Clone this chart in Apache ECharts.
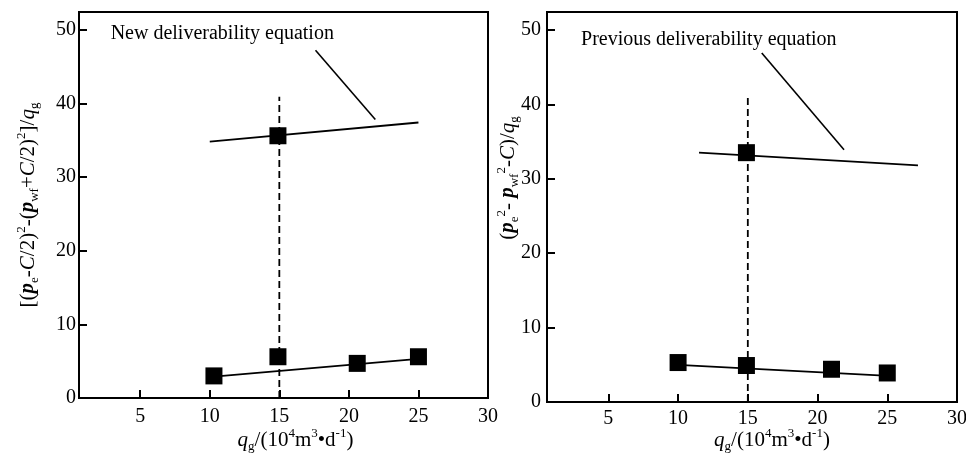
<!DOCTYPE html>
<html>
<head>
<meta charset="utf-8">
<script src="https://cdn.jsdelivr.net/npm/echarts@6/dist/echarts.min.js"></script>
<style>
  html, body { margin: 0; padding: 0; background: #fff; }
  #main { width: 966px; height: 454px; }
</style>
</head>
<body>
<div id="main"></div>
<script>
// tick labels
const xTicks = [5, 10, 15, 20, 25, 30];
const yTicks = [0, 10, 20, 30, 40, 50];

// left panel: new deliverability equation
const newLowX = [10.3, 14.9, 20.6, 25.0];
const newLowY = [3.0, 5.6, 4.7, 5.6];
const newHighX = [14.9];
const newHighY = [35.6];
const newLowFitX = [10.3, 25.0];
const newLowFitY = [2.9, 5.3];
const newHighFitX = [10.0, 25.0];
const newHighFitY = [34.8, 37.4];
const newDashX = [15, 15];
const newDashY = [0, 40.9];
const newLeaderX = [17.6, 21.9];
const newLeaderY = [47.2, 37.8];
const newTextPos = [10.9, 49.5];

// right panel: previous deliverability equation
const prevLowX = [10.0, 14.9, 21.0, 25.0];
const prevLowY = [5.3, 4.9, 4.4, 3.9];
const prevHighX = [14.9];
const prevHighY = [33.5];
const prevLowFitX = [10.0, 25.1];
const prevLowFitY = [5.0, 3.5];
const prevHighFitX = [11.5, 27.2];
const prevHighFitY = [33.5, 31.8];
const prevDashX = [15, 15];
const prevDashY = [0, 40.9];
const prevLeaderX = [16.0, 21.9];
const prevLeaderY = [46.9, 33.9];
const prevTextPos = [12.2, 48.7];

const FONT = 'Liberation Serif';
const zip = (xs, ys) => xs.map((x, i) => [x, ys[i]]);

const rich = {
    n: { fontSize: 21, fontFamily: FONT, color: '#000', lineHeight: 26 },
    it: { fontSize: 21, fontFamily: FONT, color: '#000', fontStyle: 'italic', lineHeight: 26 },
    pb: { fontSize: 21, fontFamily: FONT, color: '#000', fontStyle: 'italic', fontWeight: 'bold', lineHeight: 26 },
    sub: { fontSize: 13, fontFamily: FONT, color: '#000', verticalAlign: 'bottom', lineHeight: 13 },
    sup: { fontSize: 13, fontFamily: FONT, color: '#000', verticalAlign: 'top', lineHeight: 13 }
};

const xName = '{it|q}{sub|g}{n|/(10}{sup|4}{n|m}{sup|3}{n|•d}{sup|-1}{n|)}';
const yNameNew = '{n|[(}{pb|p}{sub|e}{n|-}{it|C}{n|/2)}{sup|2}{n|-(}{pb|p}{sub|wf}{n|+}{it|C}{n|/2)}{sup|2}{n|]/}{it|q}{sub|g}';
const yNamePrev = '{n|(}{pb|p}{sub|e}{sup|2}{n|- }{pb|p}{sub|wf}{sup|2}{n|-}{it|C}{n|)/}{it|q}{sub|g}';

function xAxisOf(grid, gap, shift, margin) {
    return {
        type: 'value', gridIndex: grid, min: 0.6, max: 30,
        name: xName, nameLocation: 'middle', nameGap: gap, nameMoveOverlap: false,
        nameTextStyle: { rich: rich, padding: [0, 0, 0, shift] },
        axisLine: { show: true, onZero: false, lineStyle: { color: '#000', width: 2 } },
        axisTick: { show: true, inside: true, length: 8, customValues: xTicks, lineStyle: { color: '#000', width: 2 } },
        axisLabel: { customValues: xTicks, margin: margin, fontFamily: FONT, fontSize: 20, color: '#000' },
        splitLine: { show: false }
    };
}

function yAxisOf(grid, name, gap, shift, margin) {
    return {
        type: 'value', gridIndex: grid, min: 0, max: 52.4,
        name: name, nameLocation: 'middle', nameGap: gap, nameMoveOverlap: false,
        nameTextStyle: { rich: rich, padding: [0, 0, 0, shift] },
        axisLine: { show: true, onZero: false, lineStyle: { color: '#000', width: 2 } },
        axisTick: { show: true, inside: true, length: 8, customValues: yTicks, lineStyle: { color: '#000', width: 2 } },
        axisLabel: { customValues: yTicks, margin: margin, fontFamily: FONT, fontSize: 20, color: '#000' },
        splitLine: { show: false }
    };
}

function line(grid, xs, ys, width, type) {
    return {
        type: 'line', xAxisIndex: grid, yAxisIndex: grid, data: zip(xs, ys),
        symbol: 'none', silent: true,
        lineStyle: { color: '#000', width: width, type: type || 'solid' }, z: 3
    };
}

function squares(grid, xs, ys) {
    return {
        type: 'scatter', xAxisIndex: grid, yAxisIndex: grid, data: zip(xs, ys),
        symbol: 'rect', symbolSize: 17, itemStyle: { color: '#000', opacity: 1 }, z: 5
    };
}

function note(grid, pos, text) {
    return {
        type: 'scatter', xAxisIndex: grid, yAxisIndex: grid, data: [pos],
        symbolSize: 0, silent: true, itemStyle: { opacity: 1 },
        label: { show: true, position: 'inside', formatter: text, fontFamily: FONT, fontSize: 20, color: '#000' }
    };
}

const chart = echarts.init(document.getElementById('main'), null, { renderer: 'canvas' });
chart.setOption({
    animation: false,
    backgroundColor: '#fff',
    grid: [
        { left: 79, right: 478, top: 12, bottom: 56, show: true, borderColor: '#000', borderWidth: 2, outerBoundsMode: 'none', containLabel: false },
        { left: 547, right: 9, top: 12, bottom: 52, show: true, borderColor: '#000', borderWidth: 2, outerBoundsMode: 'none', containLabel: false }
    ],
    xAxis: [xAxisOf(0, 29, 24, 9), xAxisOf(1, 25, 40, 7)],
    yAxis: [yAxisOf(0, yNameNew, 38, 0, 3), yAxisOf(1, yNamePrev, 26, 58, 6)],
    series: [
        line(0, newDashX, newDashY, 1.8, [7, 4]),
        line(0, newLowFitX, newLowFitY, 1.8),
        line(0, newHighFitX, newHighFitY, 1.8),
        line(0, newLeaderX, newLeaderY, 1.6),
        squares(0, newLowX, newLowY),
        squares(0, newHighX, newHighY),
        note(0, newTextPos, 'New deliverability equation'),
        line(1, prevDashX, prevDashY, 1.8, [7, 4]),
        line(1, prevLowFitX, prevLowFitY, 1.8),
        line(1, prevHighFitX, prevHighFitY, 1.8),
        line(1, prevLeaderX, prevLeaderY, 1.6),
        squares(1, prevLowX, prevLowY),
        squares(1, prevHighX, prevHighY),
        note(1, prevTextPos, 'Previous deliverability equation')
    ]
});
</script>
</body>
</html>
